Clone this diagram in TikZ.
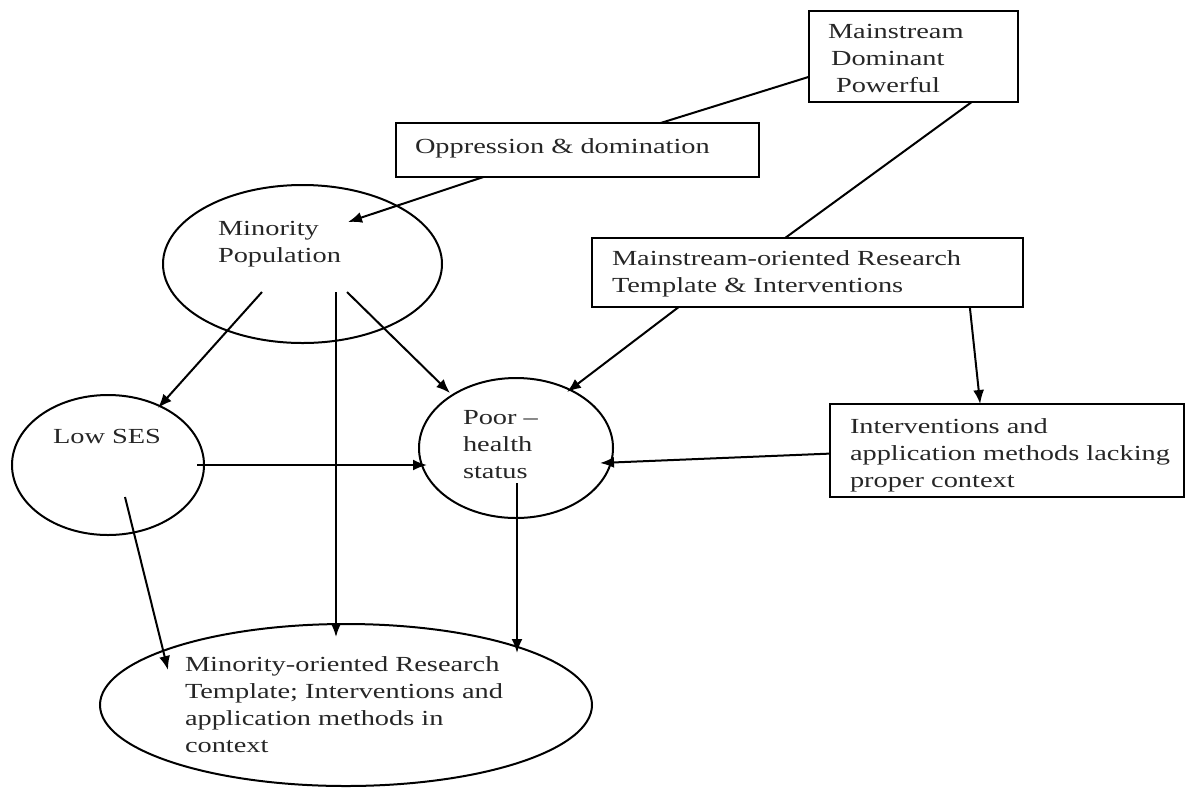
\documentclass[tikz,border=0pt]{standalone}
\usepackage{fontspec}
\setmainfont{Liberation Serif}[FakeStretch=1.32]
\usetikzlibrary{shapes.geometric,arrows.meta,calc}
\begin{document}
\begin{tikzpicture}[x=1pt,y=-1pt,
  every node/.style={inner sep=0pt, outer sep=0pt},
  box/.style={draw, line width=2.3pt, rectangle},
  oval/.style={draw, line width=2pt, ellipse},
  txt/.style={anchor=base west, align=left, font=\fontsize{21.5}{26.7}\selectfont, text=black!85},
  link/.style={line width=2pt},
  arr/.style={link, -{Latex[length=14pt,width=11pt]}}]
\useasboundingbox (0,0) rectangle (1188,788);

% shapes
\node[box, minimum width=209, minimum height=91] (main) at (913.5,56.5) {};
\node[box, minimum width=363, minimum height=54] (opp) at (577.5,150) {};
\node[box, minimum width=431, minimum height=69] (mor) at (807.5,272.5) {};
\node[box, minimum width=354, minimum height=93] (intv) at (1007,450.5) {};
\node[oval, minimum width=279, minimum height=158] (minp) at (302.5,264) {};
\node[oval, minimum width=194, minimum height=140] (poor) at (516,448) {};
\node[oval, minimum width=192, minimum height=140] (low) at (108,465) {};
\node[oval, minimum width=492, minimum height=162] (mort) at (346,705) {};

% texts (anchor = baseline of the last line)
\node[txt] (main-t) at (828,92) {Mainstream\\\hspace{3pt}Dominant\\\hspace{8pt}Powerful};
\node[txt] (opp-t) at (415,153) {Oppression \& domination};
\node[txt] (mor-t) at (612,292) {Mainstream-oriented Research\\Template \& Interventions};
\node[txt] (intv-t) at (850,487) {Interventions and\\application methods lacking\\proper context};
\node[txt] (minp-t) at (218,262) {Minority\\Population};
\node[txt] (low-t) at (53,443) {Low SES};
\node[txt] (poor-t) at (463,478) {Poor --\\health\\status};
\node[txt] (mort-t) at (185,752) {Minority-oriented Research\\Template; Interventions and\\application methods in\\context};

% connectors
\draw[link] (main.191) -- (opp.18);
\draw[arr] (opp.196.6) -- ($(minp.center)+(45.5,-42)$);
\draw[link] (main.-38.8) -- (mor.123.1);
\draw[arr] (mor.195.4) -- ($(poor.center)+(51,-56)$);
\draw[arr] (mor.-12.6) -- (intv.120.1);
\draw[arr] (intv.181.1) -- ($(poor.center)+(84,15)$);
\draw[arr] ($(minp.center)+(-40.5,28)$) -- ($(low.center)+(50,-57)$);
\draw[arr] ($(minp.center)+(33.5,28)$) -- ($(mort.center)+(-10,-68)$);
\draw[arr] ($(minp.center)+(44.5,28)$) -- ($(poor.center)+(-66,-55)$);
\draw[arr] ($(low.center)+(89,0)$) -- ($(poor.center)+(-89,17)$);
\draw[arr] ($(low.center)+(17,32)$) -- ($(mort.center)+(-178,-35)$);
\draw[arr] ($(poor.center)+(1,35)$) -- ($(mort.center)+(171,-52)$);
\end{tikzpicture}
\end{document}
